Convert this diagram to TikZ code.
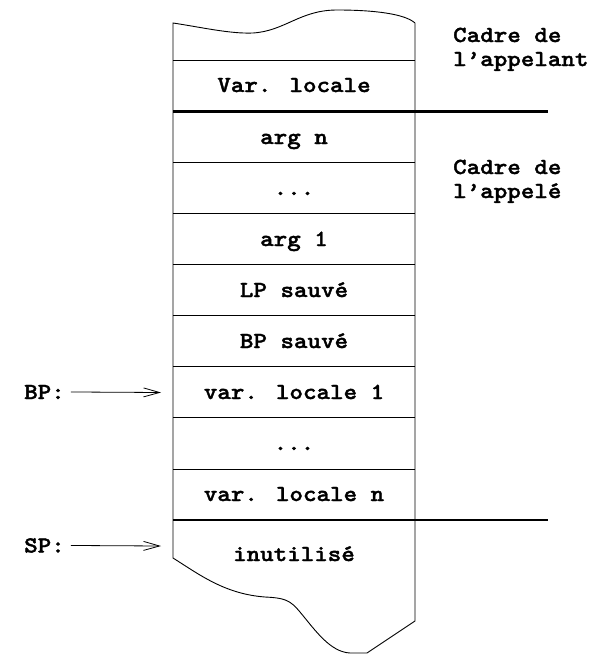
\documentclass[tikz,border=0pt]{standalone}
\usepackage{fontspec}
\newfontfamily\courbf{lmmonolt10-bold.otf}[FakeStretch=1.12,FakeBold=1.6]
\usetikzlibrary{arrows.meta}
\begin{document}
\begin{tikzpicture}[x=1pt,y=-1pt,
  lbl/.style={font=\courbf\fontsize{23}{24}\selectfont, inner sep=0pt},
  cell/.style={lbl, anchor=base},
  side/.style={lbl, anchor=base west},
  thin/.style={line width=0.9pt},
  thick/.style={line width=2.2pt},
  ptr/.style={line width=0.8pt, -{Straight Barb[length=16pt,width=9pt,line width=0.8pt]}}]
  \useasboundingbox (0,0) rectangle (601,654);

  % stack outline: wavy top, straight sides, torn bottom
  \draw[thin] (415,23) -- (415,621) -- (367,653) -- (350,653)
    .. controls (330,652) and (315,630) .. (300,612)
    .. controls (290,600) and (285,598) .. (265,597)
    .. controls (225,594) and (200,575) .. (173,558)
    -- (173,23)
    .. controls (200,27) and (230,34) .. (253,33)
    .. controls (285,31) and (300,10) .. (337,10)
    .. controls (375,10) and (405,14) .. (415,23);

  % separators between cells
  \foreach \y in {60,162.5,213.5,264.5,315.5,366.5,417.5,469}
    \draw[thin] (173,\y) -- (415,\y);
  \draw[thick] (173,111.5) -- (548,111.5);
  \draw[thick] (173,520) -- (548,520);

  % cell contents
  \node[cell] (r0) at (294,92) {Var. locale};
  \node[cell] (r1) at (294,144) {arg n};
  \node[cell] (r2) at (294,195) {...};
  \node[cell] (r3) at (294,246) {arg 1};
  \node[cell] (r4) at (294,297) {LP sauvé};
  \node[cell] (r5) at (294,348) {BP sauvé};
  \node[cell] (r6) at (294,399) {var. locale 1};
  \node[cell] (r7) at (294,450) {...};
  \node[cell] (r8) at (294,501) {var. locale n};
  \node[cell] (r9) at (294,561) {inutilisé};

  % frame names
  \node[side] (c1a) at (453,42) {Cadre de};
  \node[side] (c1b) at (453,66) {l’appelant};
  \node[side] (c2a) at (453,174) {Cadre de};
  \node[side] (c2b) at (453,198) {l’appelé};

  % register pointers
  \node[side] (bp) at (24,399) {BP:};
  \node[side] (sp) at (24,552.5) {SP:};
  \coordinate (bptip) at (161,392.5);
  \coordinate (sptip) at (161,546);
  \draw[ptr] ([xshift=6pt]bp.east) -- (bptip);
  \draw[ptr] ([xshift=6pt]sp.east) -- (sptip);
\end{tikzpicture}
\end{document}
